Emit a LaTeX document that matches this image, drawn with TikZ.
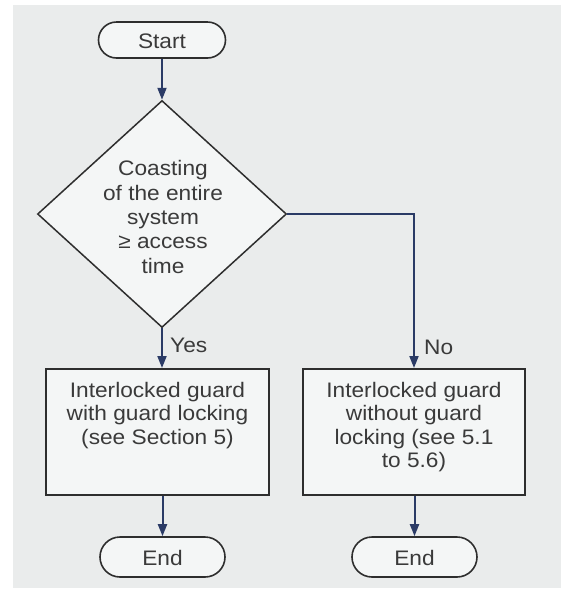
\documentclass[tikz,border=0pt]{standalone}
\usepackage{fontspec}
\setmainfont{Liberation Sans}[FakeStretch=1.08]
\usetikzlibrary{arrows.meta,shapes.geometric}
\definecolor{bg}{HTML}{EAECEC}
\definecolor{boxfill}{HTML}{F4F6F6}
\definecolor{edge}{HTML}{2E2E2E}
\definecolor{arr}{HTML}{2B3B66}
\definecolor{txt}{HTML}{3A3A3A}
\tikzset{
  term/.style={draw=edge, line width=1.6pt, fill=boxfill, inner sep=0pt},
  proc/.style={draw=edge, line width=2pt, fill=boxfill, inner sep=0pt},
  dec/.style={diamond, draw=edge, line width=1.5pt, fill=boxfill, inner sep=0pt},
  txtnode/.style={text=txt, align=center, inner sep=0pt, font=\fontsize{21}{23.5}\selectfont},
  lbl/.style={text=txt, inner sep=0pt, font=\fontsize{21}{23.5}\selectfont},
  conn/.style={draw=arr, line width=2pt, -{Triangle[length=12pt,width=9pt]}},
}
\begin{document}
\begin{tikzpicture}[x=1pt,y=-1pt]
\useasboundingbox (0,0) rectangle (561,590);
\fill[bg] (13,5) rectangle (561,588);

\node[term, minimum width=127pt, minimum height=36pt, rounded corners=18pt] (start) at (162,40) {};
\node[txtnode] (starttext) at (162,41) {Start};

\node[dec, minimum width=249pt, minimum height=227pt] (cond) at (162,214) {};
\node[txtnode, font=\fontsize{21}{24.3}\selectfont] (condtext) at (163,217) {Coasting\\of the entire\\system\\≥ access\\time};

\node[proc, minimum width=223pt, minimum height=126pt] (lbox) at (157.5,432) {};
\node[txtnode, anchor=north] (ltext) at (157.5,382) {Interlocked guard\\with guard locking\\(see Section 5)};

\node[proc, minimum width=222pt, minimum height=126pt] (rbox) at (414,432) {};
\node[txtnode, anchor=north] (rtext) at (414,382) {Interlocked guard\\without guard\\locking (see 5.1\\to 5.6)};

\node[term, minimum width=125pt, minimum height=40pt, rounded corners=20pt] (lend) at (162.5,557) {};
\node[txtnode] (lendtext) at (162.5,558) {End};
\node[term, minimum width=125pt, minimum height=40pt, rounded corners=20pt] (rend) at (414.5,557) {};
\node[txtnode] (rendtext) at (414.5,558) {End};

\node[lbl, anchor=west] (yes) at (170,345) {Yes};
\node[lbl, anchor=west] (no) at (424,347) {No};

\draw[conn] (start.south) -- (cond.north);
\draw[conn] (cond.south) -- (cond.south |- lbox.north);
\draw[conn] (cond.east) -| (rbox.north);
\draw[conn] (lend.north |- lbox.south) -- (lend.north);
\draw[conn] (rend.north |- rbox.south) -- (rend.north);
\end{tikzpicture}
\end{document}
